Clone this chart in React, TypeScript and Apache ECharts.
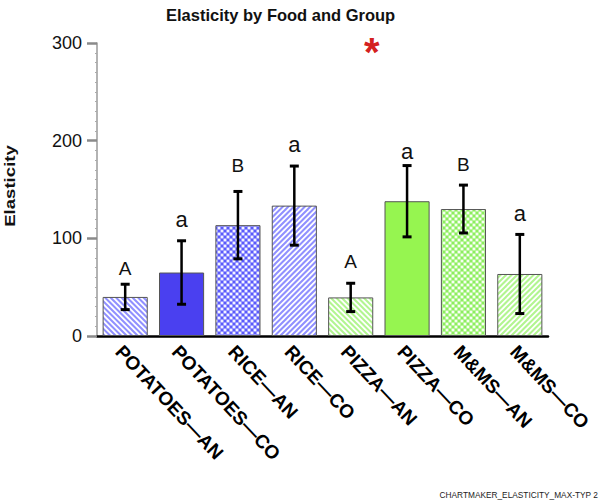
import React, { useEffect, useRef } from 'react';
import * as echarts from 'echarts';

const categories = ['POTATOES—AN', 'POTATOES—CO', 'RICE—AN', 'RICE—CO', 'PIZZA—AN', 'PIZZA—CO', 'M&MS—AN', 'M&MS—CO'];
const means = [40, 65, 113.5, 133.5, 39.5, 138, 130, 63.5];
const errors = [13, 32.5, 34.5, 40.5, 14.5, 36.5, 24.5, 40.5];
const letters = ['A', 'a', 'B', 'a', 'A', 'a', 'B', 'a'];
const letterValues = [69, 119, 175, 196, 76, 189, 176, 125];
const significance = [[4, 5, 300]];
const yMin = 0;
const yMax = 300;
const yInterval = 100;
const titleText = 'Elasticity by Food and Group';
const yName = 'Elasticity';
const footerText = 'CHARTMAKER_ELASTICITY_MAX-TYP 2';

// style (not data): fill kind and colour per bar
const fillKinds = ['back', 'solid', 'cross', 'fwd', 'back', 'solid', 'cross', 'fwd'];
const fillColors = ['blue', 'blue', 'blue', 'blue', 'green', 'green', 'green', 'green'];

const palette: Record<string, { line: string; solid: string; dot: string }> = {
  blue: { line: '#9090ff', solid: '#4a40f0', dot: '#4848f8' },
  green: { line: '#b2f590', solid: '#96f550', dot: '#80ea50' },
};

function makePattern(kind: string, colorKey: string): any {
  const c = palette[colorKey];
  if (kind === 'solid') return c.solid;
  const s = kind === 'cross' ? 6 : 11;
  const canvas = document.createElement('canvas');
  canvas.width = s;
  canvas.height = s;
  const ctx = canvas.getContext('2d')!;
  ctx.fillStyle = '#ffffff';
  ctx.fillRect(0, 0, s, s);
  ctx.strokeStyle = c.line;
  ctx.lineWidth = 2;
  ctx.lineCap = 'square';
  const step = kind === 'cross' ? 6 : 5.5;
  const drawBack = () => {
    for (let k = -3; k <= 3; k++) {
      ctx.beginPath();
      ctx.moveTo(k * step, 0);
      ctx.lineTo(k * step + s, s);
      ctx.stroke();
    }
  };
  const drawFwd = () => {
    for (let k = -3; k <= 3; k++) {
      ctx.beginPath();
      ctx.moveTo(k * step, s);
      ctx.lineTo(k * step + s, 0);
      ctx.stroke();
    }
  };
  if (kind === 'back') drawBack();
  if (kind === 'fwd') drawFwd();
  if (kind === 'cross') {
    drawBack();
    drawFwd();
    ctx.fillStyle = c.dot;
    const pts = [[0, 0], [s, 0], [0, s], [s, s], [s / 2, s / 2]];
    pts.forEach(([px, py]) => {
      ctx.beginPath();
      ctx.arc(px, py, 1, 0, Math.PI * 2);
      ctx.fill();
    });
  }
  return { image: canvas, repeat: 'repeat' };
}

const FONT = "'Liberation Sans', Arial, sans-serif";

export default function App() {
  const ref = useRef<HTMLDivElement>(null);
  useEffect(() => {
    if (!ref.current) return;
    const chart = echarts.init(ref.current, undefined, { renderer: 'svg' });
    const option: any = {
      animation: false,
      backgroundColor: '#ffffff',
      title: {
        text: titleText,
        left: 161,
        top: 1,
        textStyle: { fontSize: 16.5, fontWeight: 'bold', color: '#111', fontFamily: FONT },
      },
      grid: { left: 97, right: 52, top: 43, bottom: 167, containLabel: false },
      xAxis: {
        type: 'category',
        data: categories,
        axisLine: { lineStyle: { color: '#000', width: 2.5 } },
        axisTick: { show: false },
        axisLabel: {
          rotate: -47,
          interval: 0,
          margin: 19,
          padding: [0, 0, 0, -9],
          fontSize: 19,
          fontWeight: 'bold',
          color: '#000',
          fontFamily: FONT,
        },
      },
      yAxis: {
        type: 'value',
        min: yMin,
        max: yMax,
        interval: yInterval,
        splitLine: { show: false },
        axisLine: { show: true, lineStyle: { color: '#9a9a9a', width: 1.5 } },
        axisTick: { show: true, length: 10, lineStyle: { color: '#8a8a8a', width: 2.5 } },
        minorTick: { show: true, splitNumber: 10, length: 2, lineStyle: { color: '#aaa', width: 1 } },
        axisLabel: { margin: 15, fontSize: 18, color: '#111', fontFamily: FONT },
      },
      series: [
        {
          type: 'bar',
          barWidth: '80%',
          data: means.map((v, i) => ({
            value: v,
            itemStyle: {
              color: makePattern(fillKinds[i], fillColors[i]),
              borderColor: '#555',
              borderWidth: 1,
            },
          })),
          z: 2,
        },
        {
          type: 'custom',
          z: 10,
          data: means.map((m, i) => [i, m - errors[i], m + errors[i], letterValues[i]]),
          renderItem: (params: any, api: any) => {
            const i = api.value(0);
            const lo = api.coord([i, api.value(1)]);
            const hi = api.coord([i, api.value(2)]);
            const lt = api.coord([i, api.value(3)]);
            const x = lo[0];
            const half = 4.5;
            const letter = letters[params.dataIndex];
            const isLower = letter === letter.toLowerCase();
            return {
              type: 'group',
              children: [
                { type: 'line', shape: { x1: x, y1: lo[1], x2: x, y2: hi[1] }, style: { stroke: '#000', lineWidth: 2.5 } },
                { type: 'line', shape: { x1: x - half, y1: hi[1], x2: x + half, y2: hi[1] }, style: { stroke: '#000', lineWidth: 3 } },
                { type: 'line', shape: { x1: x - half, y1: lo[1], x2: x + half, y2: lo[1] }, style: { stroke: '#000', lineWidth: 3 } },
                {
                  type: 'text',
                  x,
                  y: lt[1],
                  style: {
                    text: letter,
                    fill: '#111',
                    fontSize: isLower ? 22 : 19,
                    fontFamily: FONT,
                    align: 'center',
                    verticalAlign: 'middle',
                  },
                },
              ],
            };
          },
        },
        {
          type: 'custom',
          z: 11,
          data: significance,
          renderItem: (params: any, api: any) => {
            const a = api.coord([api.value(0), api.value(2)]);
            const b = api.coord([api.value(1), api.value(2)]);
            return {
              type: 'text',
              x: (a[0] + b[0]) / 2 - 7,
              y: a[1] + 9,
              style: {
                text: '*',
                fill: '#d42020',
                fontSize: 40,
                fontWeight: 'bold',
                fontFamily: FONT,
                align: 'center',
                verticalAlign: 'middle',
              },
            };
          },
        },
      ],
      graphic: [
        {
          type: 'text',
          x: 10,
          y: 186,
          rotation: Math.PI / 2,
          scaleX: 1.33,
          style: {
            text: yName,
            fill: '#111',
            fontSize: 14,
            fontWeight: 'bold',
            fontFamily: FONT,
            align: 'center',
            verticalAlign: 'middle',
          },
        },
        {
          type: 'text',
          right: 2,
          top: 491,
          style: { text: footerText, fill: '#222', fontSize: 8.3, fontFamily: FONT },
        },
      ],
    };
    chart.setOption(option);
    return () => chart.dispose();
  }, []);
  return <div ref={ref} style={{ position: 'absolute', left: 0, top: 0, width: 600, height: 503 }} />;
}
